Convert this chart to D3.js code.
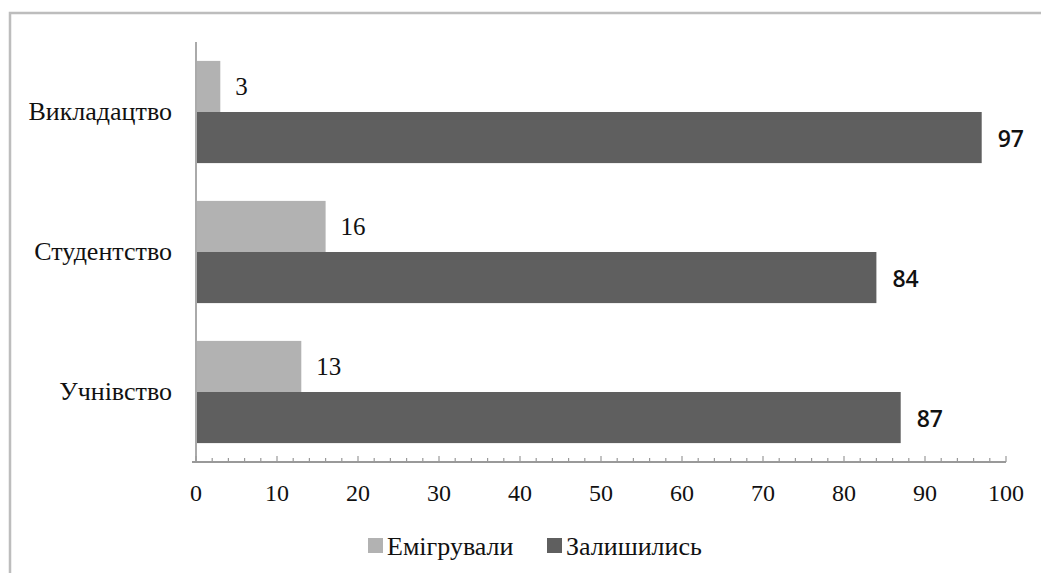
<!DOCTYPE html>
<html><head><meta charset="utf-8">
<script src="https://cdn.jsdelivr.net/npm/d3@7"></script>
<style>body{margin:0;background:#fff}svg{display:block}
.serif{font-family:"Liberation Serif","Times New Roman",serif}
.sans{font-family:"Open Sans","Liberation Sans",sans-serif}
</style>
</head><body>
<script>
const categories = ["Викладацтво", "Студентство", "Учнівство"];
const seriesNames = ["Емігрували", "Залишились"];
const emigrated = [3, 16, 13];
const stayed = [97, 84, 87];
const xTicks = [0,10,20,30,40,50,60,70,80,90,100];
const colors = ["#b2b2b2", "#5f5f5f"];

const W = 1041, H = 573;
const svg = d3.select("body").append("svg").attr("width", W).attr("height", H);

// frame
svg.append("path").attr("d", `M10,${H} L10,13 L${W},13`).attr("fill","none").attr("stroke","#bdbdbd").attr("stroke-width",2.5);

const x0 = 196, x1 = 1006, yTop = 42, yBot = 462;
const x = d3.scaleLinear().domain([0,100]).range([x0,x1]);
const y = d3.scaleBand().domain(categories).range([yTop,yBot]).paddingInner(0.27).paddingOuter(0.135);
const ys = d3.scaleBand().domain([0,1]).range([0, y.bandwidth()]);

const data = categories.map((c,i)=>({c, vals:[emigrated[i], stayed[i]]}));

const g = svg.append("g");
data.forEach(d=>{
  d.vals.forEach((v,k)=>{
    g.append("rect").attr("x", x(0)).attr("y", y(d.c)+ys(k)).attr("width", x(v)-x(0)).attr("height", ys.bandwidth())
      .attr("fill", colors[k]);
    const t = g.append("text").attr("x", x(v) + (k===0?15:16)).attr("y", y(d.c)+ys(k)+ys.bandwidth()/2)
      .attr("dominant-baseline","central").text(v).attr("fill","#111");
    if(k===0) t.attr("class","serif").attr("font-size",25);
    else t.attr("class","sans").attr("font-size",23).attr("font-weight",600);
  });
  g.append("text").attr("x", 172).attr("y", y(d.c)+y.bandwidth()/2 - 1).attr("text-anchor","end")
    .attr("dominant-baseline","central").attr("class","serif")
    .attr("font-size",26).attr("fill","#111").text(d.c);
});

// vertical axis line
svg.append("line").attr("x1",x0).attr("x2",x0).attr("y1",yTop).attr("y2",yBot).attr("stroke","#aaa").attr("stroke-width",2);

// x axis
const ax = svg.append("g").attr("transform",`translate(0,${yBot})`);
ax.append("line").attr("x1",x0-4).attr("x2",x1).attr("y1",0).attr("y2",0).attr("stroke","#999").attr("stroke-width",2);
const minor = d3.range(0,101,2);
ax.selectAll("line.mt").data(minor).join("line").attr("class","mt")
  .attr("x1",d=>x(d)).attr("x2",d=>x(d)).attr("y1",0).attr("y2",d=>d%10===0?-6:-4)
  .attr("stroke","#999").attr("stroke-width",1.2);
ax.selectAll("text").data(xTicks).join("text").attr("x",d=>x(d)).attr("y",31)
  .attr("text-anchor","middle").attr("dominant-baseline","central").attr("class","serif")
  .attr("font-size",24).attr("fill","#111").text(d=>d);

// legend
const leg = svg.append("g");
const legX = [368, 547];
seriesNames.forEach((n,k)=>{
  leg.append("rect").attr("x",legX[k]).attr("y",538).attr("width",15).attr("height",15).attr("fill",colors[k]);
  leg.append("text").attr("x",legX[k]+19).attr("y",546).attr("dominant-baseline","central").attr("class","serif")
    .attr("font-size",26).attr("fill","#111").text(n);
});
</script>
</body></html>
